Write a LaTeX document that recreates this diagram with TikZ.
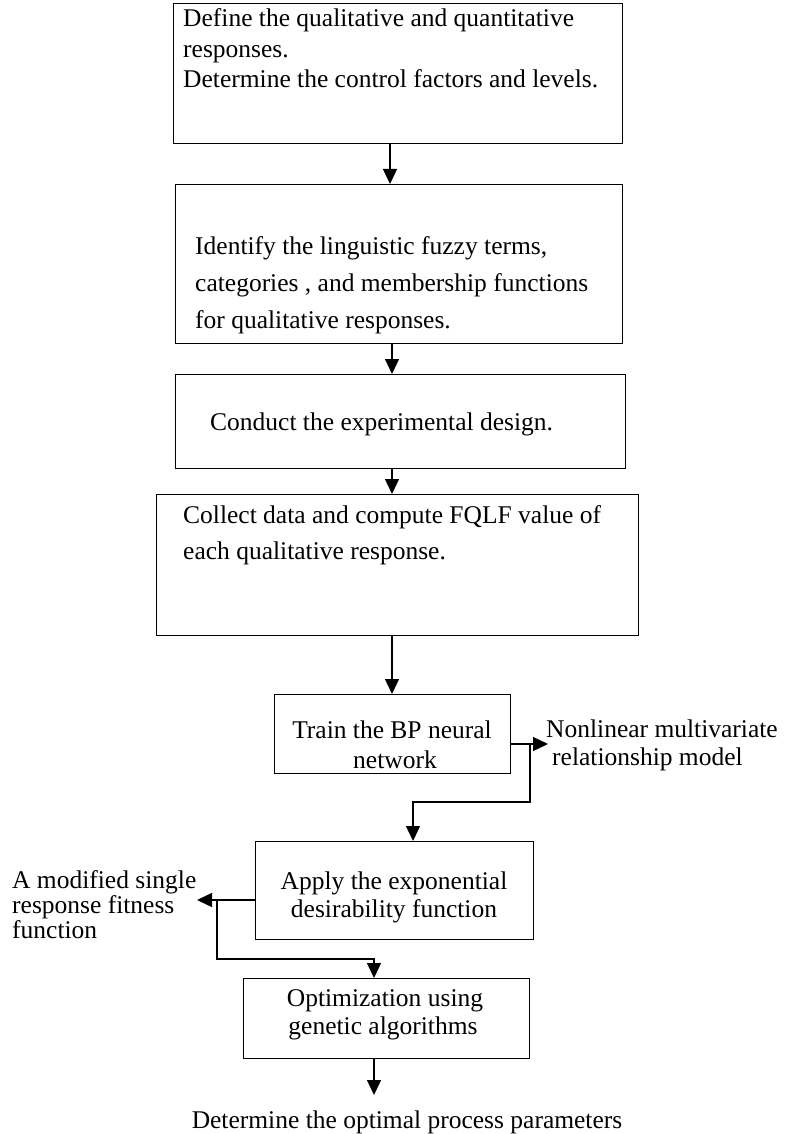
\documentclass[tikz,border=0pt]{standalone}
\usepackage{fontspec}
\setmainfont{Liberation Serif}
\usetikzlibrary{arrows.meta}
\begin{document}
\begin{tikzpicture}[x=1pt,y=-1pt,
  box/.style={draw, line width=1.3pt, inner sep=0pt, anchor=north west},
  txt/.style={inner sep=0pt, anchor=base west, font=\fontsize{25.5}{30}\selectfont},
  ctr/.style={txt, anchor=base},
  conn/.style={line width=1.3pt},
  arr/.style={conn, -{Triangle[length=15pt,width=14pt]}}]
\useasboundingbox (0,0) rectangle (785,1134);
\fill[white] (0,0) rectangle (785,1134);
% boxes
\node[box, minimum width=449pt, minimum height=140pt] (b1) at (173,3) {};
\node[box, minimum width=447pt, minimum height=159pt] (b2) at (175,184) {};
\node[box, minimum width=450pt, minimum height=94pt] (b3) at (175,374) {};
\node[box, minimum width=482pt, minimum height=141pt] (b4) at (156,494) {};
\node[box, minimum width=236pt, minimum height=79pt] (b5) at (274,694) {};
\node[box, minimum width=278pt, minimum height=98pt] (b6) at (255,841) {};
\node[box, minimum width=286pt, minimum height=80pt] (b7) at (243,978) {};
% box texts
\node[txt] (t1a) at (183,27) {Define the qualitative and quantitative};
\node[txt] (t1b) at (183,58) {responses.};
\node[txt] (t1c) at (183,88) {Determine the control factors and levels.};
\node[txt] (t2a) at (195,254) {Identify the linguistic fuzzy terms,};
\node[txt] (t2b) at (195,291) {categories , and membership functions};
\node[txt] (t2c) at (195,328) {for qualitative responses.};
\node[txt] (t3) at (210,430) {Conduct the experimental design.};
\node[txt] (t4a) at (183,523) {Collect data and compute FQLF value of};
\node[txt] (t4b) at (183,559) {each qualitative response.};
\node[ctr] (t5a) at (392,738) {Train the BP neural};
\node[ctr] (t5b) at (395,768) {network};
\node[ctr] (t6a) at (394,889) {Apply the exponential};
\node[ctr] (t6b) at (394,917) {desirability function};
\node[ctr] (t7a) at (385,1006) {Optimization using};
\node[ctr] (t7b) at (383,1034) {genetic algorithms};
% side labels
\node[txt] (l1a) at (546,737) {Nonlinear multivariate};
\node[txt] (l1b) at (552,765) {relationship model};
\node[txt] (l2a) at (12,888) {A modified single};
\node[txt] (l2b) at (12,913) {response fitness};
\node[txt] (l2c) at (12,938) {function};
\node[ctr] (l3) at (407,1128) {Determine the optimal process parameters};
% connectors
\coordinate (cA) at (390,0);
\coordinate (cB) at (392,0);
\draw[arr] (b1.south -| cA) -- (b2.north -| cA);
\draw[arr] (b2.south -| cB) -- (b3.north -| cB);
\draw[arr] (b3.south -| cB) -- (b4.north -| cB);
\draw[arr] (b4.south -| cB) -- (b5.north -| cB);
\coordinate (r1) at (548,744);
\draw[arr] (b5.east |- r1) -- (r1);
\coordinate (j1) at (530,744);
\coordinate (j2) at (413,802);
\draw[arr] (j1) |- (j2) -- (b6.north -| j2);
\coordinate (lt) at (197,900);
\draw[arr] (b6.west |- lt) -- (lt);
\coordinate (j3) at (217,900);
\coordinate (j4) at (374,959);
\draw[arr] (j3) |- (j4) -- (b7.north -| j4);
\coordinate (bt) at (374,1095);
\draw[arr] (b7.south -| bt) -- (bt);
\end{tikzpicture}
\end{document}
